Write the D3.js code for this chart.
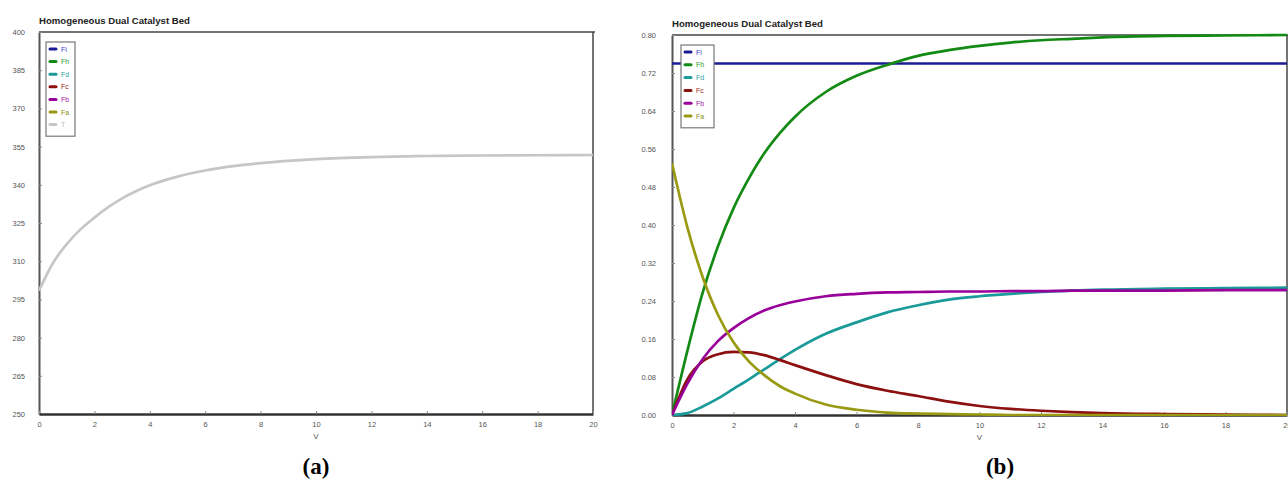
<!DOCTYPE html>
<html><head><meta charset="utf-8">
<script src="https://cdn.jsdelivr.net/npm/d3@7"></script>
<style>
html,body{margin:0;padding:0;background:#fff;overflow:hidden;}
svg{display:block;}
.tick text{font-family:"Liberation Sans Narrow","Arial Narrow","Liberation Sans",Arial,sans-serif;font-size:7.5px;fill:#555;}
</style></head>
<body>
<svg id="chart" width="1288" height="482"></svg>
<script>
const title = "Homogeneous Dual Catalyst Bed";
const xTicks = [0,2,4,6,8,10,12,14,16,18,20];
const tTicks = [250,265,280,295,310,325,340,355,370,385,400];
const fTicks = [0,0.08,0.16,0.24,0.32,0.40,0.48,0.56,0.64,0.72,0.80];

// Panel (a): temperature profile
const vA = [0,0.5,1,1.5,2,2.5,3,3.5,4,5,6,7,8,9,10,12,14,16,18,20];
const T  = [298.4,309.2,316.7,322.5,327.1,331.2,334.7,337.5,339.8,343.2,345.6,347.3,348.5,349.4,350.1,350.9,351.3,351.5,351.6,351.7];

// Panel (b): molar flow rates
const vB = [0,0.5,1,1.5,2,2.5,3,3.5,4,5,6,7,8,9,10,11,12,13,14,16,18,20];
const Fi = [0.74,0.74,0.74,0.74,0.74,0.74,0.74,0.74,0.74,0.74,0.74,0.74,0.74,0.74,0.74,0.74,0.74,0.74,0.74,0.74,0.74,0.74];
const Fh = [0,0.135,0.258,0.356,0.435,0.498,0.551,0.593,0.628,0.680,0.714,0.737,0.756,0.768,0.777,0.784,0.789,0.792,0.795,0.798,0.799,0.80];
const Fd = [0,0.004,0.018,0.035,0.055,0.075,0.096,0.117,0.137,0.171,0.195,0.216,0.231,0.243,0.250,0.255,0.259,0.262,0.264,0.266,0.267,0.268];
const Fc = [0,0.075,0.113,0.128,0.133,0.132,0.126,0.116,0.105,0.084,0.065,0.051,0.040,0.028,0.019,0.013,0.009,0.006,0.004,0.002,0.001,0];
const Fb = [0,0.066,0.118,0.156,0.183,0.204,0.220,0.231,0.239,0.250,0.255,0.258,0.259,0.260,0.260,0.261,0.261,0.262,0.262,0.262,0.263,0.263];
const Fa = [0.53,0.395,0.29,0.21,0.153,0.113,0.084,0.061,0.045,0.022,0.011,0.005,0.003,0.002,0.001,0,0,0,0,0,0,0];

const seriesNames  = ["Fi","Fh","Fd","Fc","Fb","Fa","T"];
const seriesColors = ["#1c1c96","#138a13","#1b9a9a","#8c1010","#990099","#9a9a12","#c6c6c6"];
const textColors   = ["#3a3ac8","#2a9a2a","#2aa0a0","#a02020","#a020a0","#8a8a10","#b8b8b8"];

const svg = d3.select("#chart");

function panel(cfg){
  const g = svg.append("g");
  const x = d3.scaleLinear().domain([0,20]).range([cfg.left, cfg.right]);
  const y = d3.scaleLinear().domain(cfg.yDomain).range([cfg.bottom, cfg.top]);

  g.append("text").attr("x", cfg.left).attr("y", cfg.top - 8)
    .attr("font-family","Liberation Sans, Arial, sans-serif").attr("font-size", 9.6)
    .attr("font-weight","bold").attr("fill","#222").text(title);

  g.append("line").attr("x1",cfg.left).attr("x2",cfg.right+2).attr("y1",cfg.top).attr("y2",cfg.top)
    .attr("stroke","#444").attr("stroke-width",1.5);
  g.append("line").attr("x1",cfg.right).attr("x2",cfg.right).attr("y1",cfg.top).attr("y2",cfg.bottom)
    .attr("stroke","#444").attr("stroke-width",1.5);

  const ya = g.append("g").attr("transform",`translate(${cfg.left},0)`)
    .call(d3.axisLeft(y).tickValues(cfg.yTicks).tickFormat(cfg.yFmt).tickSizeInner(-3).tickSizeOuter(0).tickPadding(cfg.yPad));
  ya.select(".domain").attr("stroke","#555").attr("stroke-width",2);
  ya.selectAll(".tick line").attr("stroke","#888");

  const xa = g.append("g").attr("transform",`translate(0,${cfg.bottom})`)
    .call(d3.axisBottom(x).tickValues(xTicks).tickFormat(d3.format("d")).tickSizeInner(-3).tickSizeOuter(0).tickPadding(8));
  xa.select(".domain").attr("stroke","#333").attr("stroke-width",2.5);
  xa.selectAll(".tick line").attr("stroke","#888");

  g.append("text").attr("x",(cfg.left+cfg.right)/2).attr("y",cfg.bottom+25)
    .attr("text-anchor","middle").attr("font-family","Liberation Sans Narrow, Liberation Sans, Arial, sans-serif")
    .attr("font-size",8).attr("fill","#555").text("V");

  const clipId = "clip"+cfg.id;
  svg.append("clipPath").attr("id",clipId).append("rect")
    .attr("x",cfg.left).attr("y",cfg.top-2).attr("width",cfg.right-cfg.left+2).attr("height",cfg.bottom-cfg.top+3);
  const lg = g.append("g").attr("clip-path",`url(#${clipId})`);
  cfg.series.forEach(s=>{
    const line = d3.line().x((d,i)=>x(s.xs[i])).y(d=>y(d)).curve(d3.curveMonotoneX);
    lg.append("path").datum(s.ys).attr("d",line).attr("fill","none")
      .attr("stroke",seriesColors[s.idx]).attr("stroke-width",s.w||2.7).attr("stroke-linejoin","round");
  });

  const L = cfg.legend;
  const lgd = g.append("g");
  lgd.append("rect").attr("x",L.x).attr("y",L.y).attr("width",L.w).attr("height",L.n*L.step+6)
    .attr("fill","#fff").attr("stroke","#777").attr("stroke-width",1.2);
  for(let i=0;i<L.n;i++){
    const cy = L.y + 7 + i*L.step;
    lgd.append("line").attr("x1",L.x+4).attr("x2",L.x+10).attr("y1",cy).attr("y2",cy)
      .attr("stroke",seriesColors[i]).attr("stroke-width",3).attr("stroke-linecap","round");
    lgd.append("text").attr("x",L.x+15).attr("y",cy+2.5)
      .attr("font-family","Liberation Sans Narrow, Liberation Sans, Arial, sans-serif").attr("font-size",7)
      .attr("fill",textColors[i]).text(seriesNames[i]);
  }

  svg.append("text").attr("x",cfg.labelX).attr("y",474).attr("text-anchor","middle")
    .attr("font-family","Liberation Serif, Times New Roman, serif").attr("font-size",23)
    .attr("font-weight","bold").attr("fill","#000").text(cfg.label);
}

panel({
  id:"a", left:39, right:593, top:32, bottom:414,
  yDomain:[250,400], yTicks:tTicks, yFmt:d3.format("d"), yPad:14,
  series:[{idx:6, xs:vA, ys:T, w:2.7}],
  legend:{x:46, y:42, w:29, n:7, step:12.6},
  label:"(a)", labelX:316
});

panel({
  id:"b", left:672, right:1287, top:35, bottom:415,
  yDomain:[0,0.8], yTicks:fTicks, yFmt:d3.format(".2f"), yPad:16,
  series:[
    {idx:0, xs:vB, ys:Fi},
    {idx:1, xs:vB, ys:Fh},
    {idx:2, xs:vB, ys:Fd},
    {idx:3, xs:vB, ys:Fc},
    {idx:4, xs:vB, ys:Fb},
    {idx:5, xs:vB, ys:Fa}
  ],
  legend:{x:681, y:45, w:33, n:6, step:12.8},
  label:"(b)", labelX:1000
});
</script>
</body></html>
